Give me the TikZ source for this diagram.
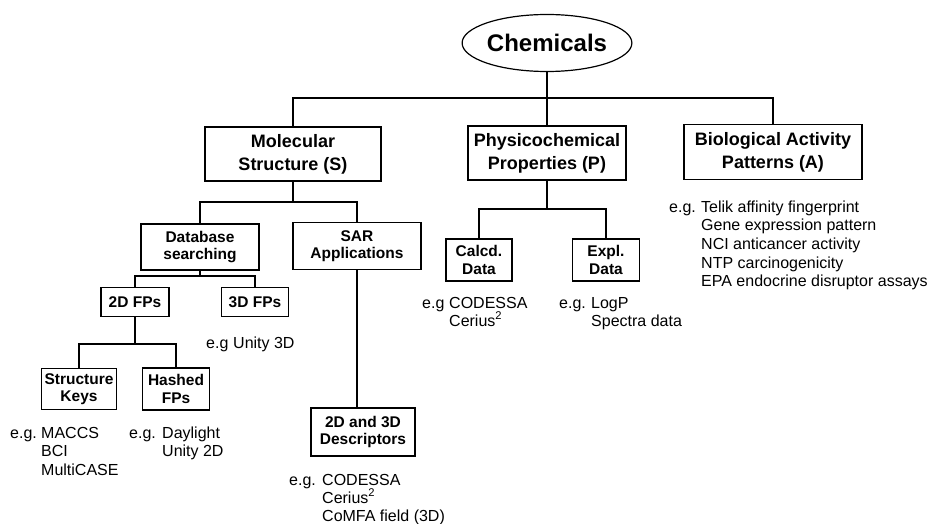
\documentclass[tikz,border=0pt]{standalone}
\usepackage{fontspec}
\setmainfont{Liberation Sans}
\usetikzlibrary{shapes.geometric}
\tikzset{
  bigbox/.style={draw,line width=1.4pt,inner sep=0pt,align=center,
    font=\bfseries\fontsize{18}{23}\selectfont},
  smallbox/.style={draw,line width=1.7pt,inner sep=0pt,align=center,
    font=\bfseries\fontsize{15.5}{17.5}\selectfont},
  oval/.style={draw,ellipse,line width=1.2pt,inner sep=0pt,
    font=\bfseries\fontsize{24}{28}\selectfont},
  note/.style={anchor=base west,inner sep=0pt,font=\fontsize{16}{19}\selectfont},
  link/.style={line width=1.1pt}
}
\begin{document}
\begin{tikzpicture}[x=1pt,y=-1pt]
  \useasboundingbox (0,0) rectangle (930,524);

  % top level
  \node[oval,minimum width=163pt,minimum height=57pt] (chem) at (547,43) {Chemicals};
  \node[bigbox,minimum width=176pt,minimum height=54pt] (molS) at (293,154) {Molecular\\Structure (S)};
  \node[bigbox,minimum width=158pt,minimum height=54pt] (physP) at (547,153) {Physicochemical\\Properties (P)};
  \node[bigbox,minimum width=178pt,minimum height=55pt] (bioA) at (773,152) {Biological Activity\\Patterns (A)};

  % second level
  \node[smallbox,minimum width=118pt,minimum height=46pt] (dbs) at (200,247) {Database\\searching};
  \node[smallbox,line width=1.4pt,minimum width=128pt,minimum height=47pt] (sar) at (357,246) {SAR\\Applications};
  \node[smallbox,minimum width=66pt,minimum height=42pt] (calcd) at (479,260) {Calcd.\\Data};
  \node[smallbox,line width=1.2pt,minimum width=67pt,minimum height=42pt] (expl) at (606,260) {Expl.\\Data};

  % third level
  \node[smallbox,minimum width=68pt,minimum height=29pt] (fp2) at (135,302) {2D FPs};
  \node[smallbox,minimum width=67pt,minimum height=29pt] (fp3) at (255,302) {3D FPs};
  \node[smallbox,minimum width=75pt,minimum height=41pt] (skeys) at (79,389) {Structure\\Keys};
  \node[smallbox,minimum width=67pt,minimum height=42pt] (hfps) at (176,389) {Hashed\\FPs};
  \node[smallbox,line width=1.2pt,minimum width=104pt,minimum height=48pt] (desc) at (363,432) {2D and 3D\\Descriptors};

  % tree lines
  \coordinate (top) at (547,98);
  \coordinate (barS) at (293,202);
  \coordinate (barD) at (200,276);
  \coordinate (bar2) at (135,344);
  \coordinate (barP) at (547,209);
  \draw[link] (chem) -- (top);
  \draw[link] (molS.north) |- (top) -| (bioA.north);
  \draw[link] (top) -- (physP.north);
  \draw[link] (molS) -- (barS);
  \draw[link] (dbs.north) |- (barS) -| (sar.north);
  \draw[link] (dbs) -- (barD);
  \draw[link] (fp2.north) |- (barD) -| (fp3.north);
  \draw[link] (fp2) -- (bar2);
  \draw[link] (skeys.north) |- (bar2) -| (hfps.north);
  \draw[link] (sar.south) -- (sar.south |- desc.north);
  \draw[link] (physP) -- (barP);
  \draw[link] (calcd.north) |- (barP) -| (expl.north);

  % examples
  \node[note] (egA) at (669,212) {e.g.};
  \foreach \t [count=\i from 0] in {Telik affinity fingerprint,Gene expression pattern,
      NCI anticancer activity,NTP carcinogenicity,EPA endocrine disruptor assays}
    \node[note] (exA\i) at (701,212+18.7*\i) {\t};
  \node[note] (egC) at (422,308) {e.g};
  \node[note] (exC0) at (449,308) {CODESSA};
  \node[note] (exC1) at (449,326) {Cerius\textsuperscript{2}};
  \node[note] (egE) at (559,308) {e.g.};
  \node[note] (exE0) at (591,308) {LogP};
  \node[note] (exE1) at (591,326) {Spectra data};
  \node[note] (egF) at (206,348) {e.g};
  \node[note] (exF0) at (233,348) {Unity 3D};
  \node[note] (egK) at (10,438) {e.g.};
  \foreach \t [count=\i from 0] in {MACCS,BCI,MultiCASE}
    \node[note] (exK\i) at (41,438+18.5*\i) {\t};
  \node[note] (egH) at (129,438) {e.g.};
  \node[note] (exH0) at (162,438) {Daylight};
  \node[note] (exH1) at (162,456.5) {Unity 2D};
  \node[note] (egD) at (289,485) {e.g.};
  \node[note] (exD0) at (322,485) {CODESSA};
  \node[note] (exD1) at (322,503) {Cerius\textsuperscript{2}};
  \node[note] (exD2) at (322,521) {CoMFA field (3D)};
\end{tikzpicture}
\end{document}
